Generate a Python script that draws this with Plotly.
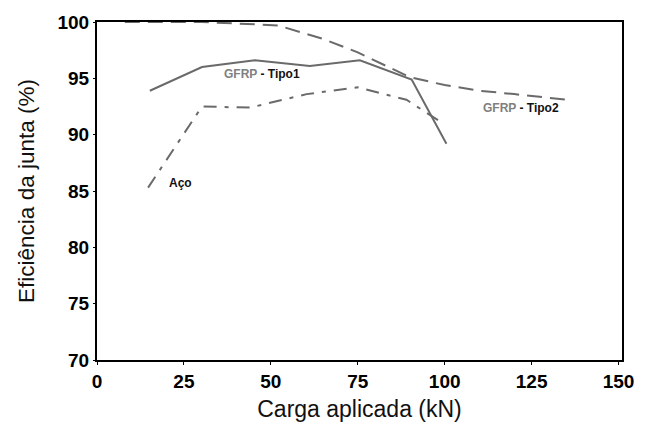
import plotly.graph_objects as go

tipo2_x = [8, 30, 52, 65, 75, 90, 100, 110, 120, 135]
tipo2_y = [100, 100, 99.7, 98.5, 97.3, 95.1, 94.4, 93.9, 93.6, 93.1]

tipo1_x = [15.2, 30.2, 45.4, 61.2, 75.6, 90.5, 100.5]
tipo1_y = [93.9, 96.0, 96.6, 96.1, 96.6, 94.9, 89.2]

aco_x = [14.7, 30.2, 44, 60.3, 75, 89, 99]
aco_y = [85.3, 92.5, 92.4, 93.6, 94.2, 93.1, 91.1]

x_ticks = [0, 25, 50, 75, 100, 125, 150]
y_ticks = [70, 75, 80, 85, 90, 95, 100]

line_color = "#6a6a6a"

fig = go.Figure()
fig.add_trace(go.Scatter(x=tipo2_x, y=tipo2_y, mode="lines",
                         line=dict(color=line_color, width=2, dash="15px,8px")))
fig.add_trace(go.Scatter(x=tipo1_x, y=tipo1_y, mode="lines",
                         line=dict(color=line_color, width=2)))
fig.add_trace(go.Scatter(x=aco_x, y=aco_y, mode="lines",
                         line=dict(color=line_color, width=2, dash="13px,8px,4px,8px")))

lab_font = dict(family="Liberation Sans", size=12, color="#111")
fig.add_annotation(x=47.4, y=95.4, text="<b><span style='color:#808080'>GFRP</span> - Tipo1</b>",
                   showarrow=False, font=lab_font)
fig.add_annotation(x=122, y=92.4, text="<b><span style='color:#808080'>GFRP</span> - Tipo2</b>",
                   showarrow=False, font=lab_font)
fig.add_annotation(x=24.1, y=85.7, text="<b>Aço</b>", showarrow=False, font=lab_font)

fig.update_layout(
    width=646, height=430,
    margin=dict(l=97, r=22, t=21, b=68),
    paper_bgcolor="white", plot_bgcolor="white",
    showlegend=False,
    font=dict(family="Liberation Sans"),
)
fig.update_xaxes(range=[0, 151], tickvals=x_ticks, ticktext=[str(v) for v in x_ticks],
                 showgrid=False, zeroline=False, showline=True, linecolor="black",
                 linewidth=2, mirror=True, ticks="outside", ticklen=3, tickcolor="black",
                 tickfont=dict(size=19, color="black", family="Liberation Sans", weight="bold"),
                 title=dict(text="Carga aplicada (kN)", font=dict(size=23, color="#111"), standoff=10))
fig.update_yaxes(range=[70, 100], tickvals=y_ticks, ticktext=[str(v) for v in y_ticks],
                 showgrid=False, zeroline=False, showline=True, linecolor="black",
                 linewidth=2, mirror=True, ticks="outside", ticklen=2, tickcolor="black",
                 tickfont=dict(size=19, color="black", family="Liberation Sans", weight="bold"),
                 title=dict(text="Eficiência da junta (%)", font=dict(size=22.5, color="#111"), standoff=17))

fig.write_html("out.html")
